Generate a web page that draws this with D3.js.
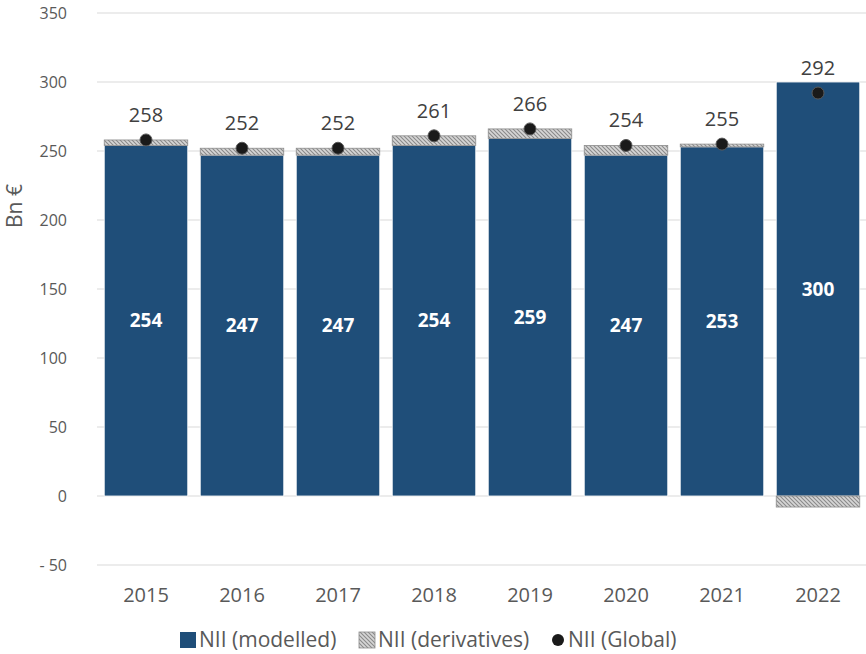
<!DOCTYPE html>
<html><head><meta charset="utf-8">
<script src="https://cdn.jsdelivr.net/npm/d3@7"></script>
<style>body{margin:0;background:#fff;} text{font-family:"Open Sans",sans-serif;}</style>
</head><body>
<svg id="chart" width="866" height="654"></svg>
<script>
const years = ["2015","2016","2017","2018","2019","2020","2021","2022"];
const modelled = [254,247,247,254,259,247,253,300];
const derivatives = [4,5,5,7,7,7,2,-8];
const global = [258,252,252,261,266,254,255,292];
const yTicks = [-50,0,50,100,150,200,250,300,350];

const svg = d3.select("#chart");
const x = d3.scaleBand().domain(years).range([98,866]).paddingInner(0.13).paddingOuter(0.065);
const y = d3.scaleLinear().domain([-50,350]).range([565,13]);

const defs = svg.append("defs");
const pat = defs.append("pattern").attr("id","hatch").attr("patternUnits","userSpaceOnUse")
  .attr("width",4).attr("height",4);
pat.append("rect").attr("width",4).attr("height",4).attr("fill","#d6d6d6");
pat.append("path").attr("d","M-1,-1 L5,5 M-1,3 L1,5 M3,-1 L5,1").attr("stroke","#8a8a8a").attr("stroke-width",1.1);

// gridlines
svg.append("g").selectAll("line").data(yTicks).join("line")
  .attr("x1",97).attr("x2",866).attr("y1",d=>y(d)).attr("y2",d=>y(d))
  .attr("stroke","#d9d9d9").attr("stroke-width",1);

// y tick labels
svg.append("g").selectAll("text").data(yTicks).join("text")
  .attr("x",67).attr("y",d=>y(d)).attr("dy","0.35em").attr("text-anchor","end")
  .attr("font-size",16).attr("fill","#595959")
  .text(d=> d<0 ? "- " + Math.abs(d) : d);

svg.append("text").attr("transform","translate(15,206) rotate(-90)")
  .attr("text-anchor","middle").attr("dy","0.35em").attr("font-size",21).attr("fill","#595959").text("Bn €");

// x labels
svg.append("g").selectAll("text").data(years).join("text")
  .attr("x",d=>x(d)+x.bandwidth()/2).attr("y",595).attr("dy","0.35em").attr("text-anchor","middle")
  .attr("font-size",20).attr("fill","#595959").text(d=>d);

// modelled bars
svg.append("g").selectAll("rect").data(years).join("rect")
  .attr("x",d=>x(d)).attr("width",x.bandwidth())
  .attr("y",(d,i)=>y(modelled[i])).attr("height",(d,i)=>y(0)-y(modelled[i]))
  .attr("fill","#1f4e79").attr("stroke","#ffffff").attr("stroke-width",0.8);

// derivatives
svg.append("g").selectAll("rect").data(years).join("rect")
  .attr("x",d=>x(d)).attr("width",x.bandwidth())
  .attr("y",(d,i)=> derivatives[i]>=0 ? y(modelled[i]+derivatives[i]) : y(0))
  .attr("height",(d,i)=> Math.abs(y(derivatives[i])-y(0)))
  .attr("fill","url(#hatch)").attr("stroke","#8c8c8c").attr("stroke-width",0.8);

// modelled labels
svg.append("g").selectAll("text").data(years).join("text")
  .attr("x",d=>x(d)+x.bandwidth()/2).attr("y",(d,i)=>y(modelled[i]/2)).attr("dy","0.35em")
  .attr("text-anchor","middle").attr("font-size",19).attr("font-weight","bold").attr("fill","#ffffff")
  .text((d,i)=>modelled[i]);

// global dots
svg.append("g").selectAll("circle").data(years).join("circle")
  .attr("cx",d=>x(d)+x.bandwidth()/2).attr("cy",(d,i)=>y(global[i])).attr("r",6)
  .attr("fill","#1a1a1a").attr("stroke","#595959").attr("stroke-width",1);

svg.append("g").selectAll("text").data(years).join("text")
  .attr("x",d=>x(d)+x.bandwidth()/2).attr("y",(d,i)=>y(global[i])-25).attr("dy","0.35em")
  .attr("text-anchor","middle").attr("font-size",20).attr("fill","#404040")
  .text((d,i)=>global[i]);

// legend
const lg = svg.append("g");
lg.append("rect").attr("x",180).attr("y",632).attr("width",16).attr("height",16).attr("fill","#1f4e79");
lg.append("text").attr("x",199).attr("y",640).attr("dy","0.35em").attr("font-size",21).attr("fill","#595959").text("NII (modelled)");
lg.append("rect").attr("x",359).attr("y",632).attr("width",16).attr("height",16).attr("fill","url(#hatch)").attr("stroke","#8c8c8c").attr("stroke-width",0.8);
lg.append("text").attr("x",378).attr("y",640).attr("dy","0.35em").attr("font-size",21).attr("fill","#595959").text("NII (derivatives)");
lg.append("circle").attr("cx",558).attr("cy",640).attr("r",6).attr("fill","#1a1a1a");
lg.append("text").attr("x",568).attr("y",640).attr("dy","0.35em").attr("font-size",21).attr("fill","#595959").text("NII (Global)");
</script>
</body></html>
